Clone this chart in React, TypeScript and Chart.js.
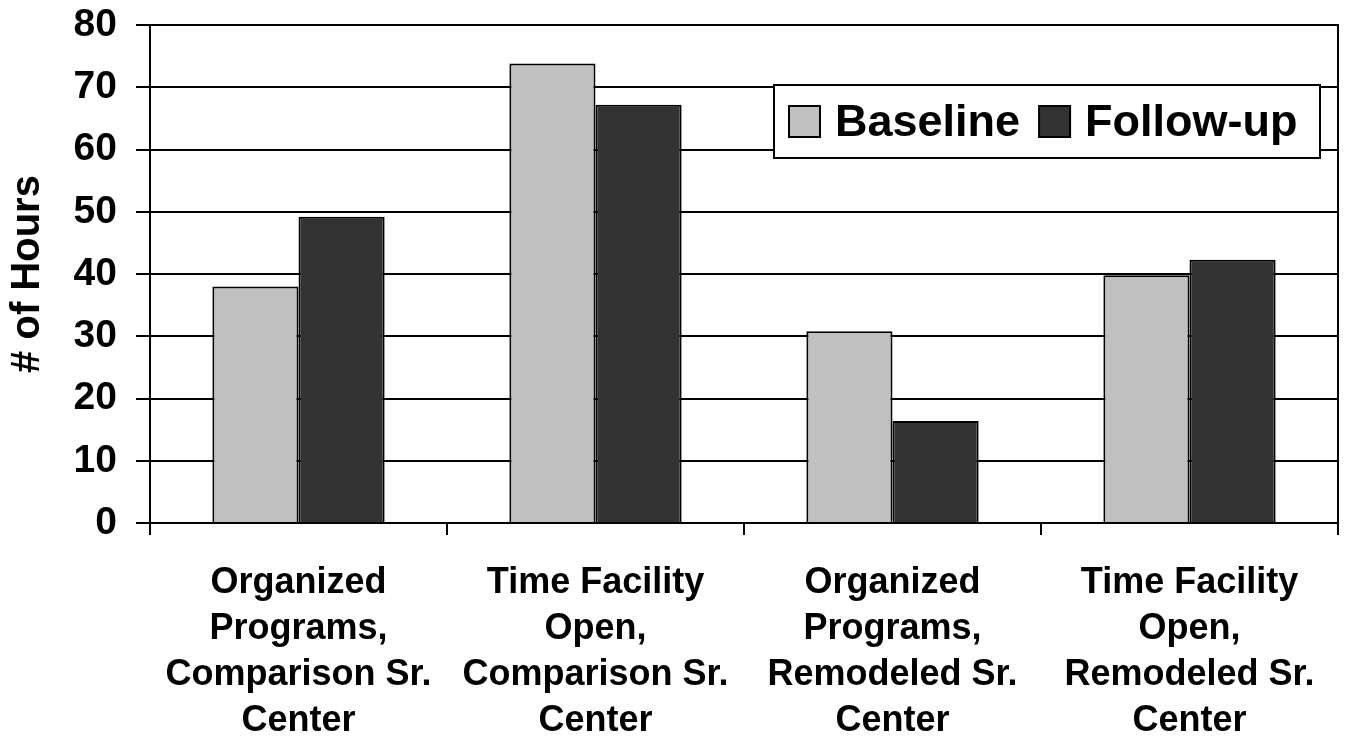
import React, { useEffect, useRef } from "react";
import { Chart, registerables } from "chart.js";

Chart.register(...registerables);

const categories: string[][] = [
  ["Organized", "Programs,", "Comparison Sr.", "Center"],
  ["Time Facility", "Open,", "Comparison Sr.", "Center"],
  ["Organized", "Programs,", "Remodeled Sr.", "Center"],
  ["Time Facility", "Open,", "Remodeled Sr.", "Center"],
];
const seriesNames = ["Baseline", "Follow-up"];
const baselineValues = [38, 73.8, 30.8, 39.8];
const followUpValues = [49.2, 67.2, 16.4, 42.3];
const seriesColors = ["#C0C0C0", "#333333"];
const yTitle = "# of Hours";

const FONT = "'Liberation Sans', Arial, Helvetica, sans-serif";

const borderPlugin = {
  id: "plotBorder",
  afterDatasetsDraw(chart: any) {
    const { ctx, chartArea } = chart;
    ctx.save();
    ctx.strokeStyle = "#000";
    ctx.lineWidth = 2;
    const x = Math.round(chartArea.right);
    ctx.beginPath();
    ctx.moveTo(x, chartArea.top - 1);
    ctx.lineTo(x, chartArea.bottom);
    ctx.stroke();
    ctx.restore();
  },
};

const legendBoxPlugin = {
  id: "legendBox",
  afterDraw(chart: any) {
    const { ctx, chartArea } = chart;
    const fontSize = 45;
    const sq = 31;
    const pad = 15;
    const gap = 19;
    ctx.save();
    ctx.font = `bold ${fontSize}px ${FONT}`;
    const items = chart.data.datasets.map((d: any) => ({
      label: d.label,
      color: d.backgroundColor,
      w: ctx.measureText(d.label).width,
    }));
    let total = pad;
    items.forEach((it: any, i: number) => {
      total += sq + pad + it.w + (i < items.length - 1 ? gap : pad);
    });
    const boxH = 73;
    const right = chartArea.right - 18;
    const left = Math.min(right - total, 774);
    const width = right - left;
    const top = chartArea.top + 60;
    ctx.fillStyle = "#fff";
    ctx.fillRect(left, top, width, boxH);
    ctx.strokeStyle = "#000";
    ctx.lineWidth = 2;
    ctx.strokeRect(Math.round(left), Math.round(top), Math.round(width), boxH);
    const cy = top + boxH / 2;
    let x = left + pad;
    items.forEach((it: any) => {
      ctx.fillStyle = it.color;
      ctx.fillRect(x, cy - sq / 2, sq, sq);
      ctx.strokeStyle = "#000";
      ctx.lineWidth = 2;
      ctx.strokeRect(x, cy - sq / 2, sq, sq);
      x += sq + pad;
      ctx.fillStyle = "#000";
      ctx.textBaseline = "middle";
      ctx.textAlign = "left";
      ctx.fillText(it.label, x, cy + 2);
      x += it.w + gap;
    });
    ctx.restore();
  },
};

export default function App() {
  const canvasRef = useRef<HTMLCanvasElement | null>(null);

  useEffect(() => {
    if (!canvasRef.current) return;
    const chart = new Chart(canvasRef.current, {
      type: "bar",
      data: {
        labels: categories,
        datasets: [
          {
            label: seriesNames[0],
            data: baselineValues,
            backgroundColor: seriesColors[0],
            borderColor: "#000",
            borderWidth: 2,
          },
          {
            label: seriesNames[1],
            data: followUpValues,
            backgroundColor: seriesColors[1],
            borderColor: "#000",
            borderWidth: 2,
          },
        ],
      },
      options: {
        animation: false,
        responsive: true,
        maintainAspectRatio: false,
        devicePixelRatio: 1,
        layout: { padding: { left: 0, right: 7, top: 25, bottom: 0 } },
        plugins: {
          legend: { display: false },
          tooltip: { enabled: false },
        },
        datasets: {
          bar: { categoryPercentage: 0.58, barPercentage: 1 },
        },
        scales: {
          x: {
            grid: {
              display: true,
              drawOnChartArea: false,
              drawTicks: true,
              tickLength: 12,
              color: "#000",
              lineWidth: 2,
              offset: true,
            },
            border: { display: true, color: "#000", width: 2 },
            ticks: {
              color: "#000",
              font: { family: FONT, size: 36, weight: "bold", lineHeight: 1.28 },
              padding: 25,
              maxRotation: 0,
              autoSkip: false,
            },
            afterFit: (scale: any) => {
              scale.height = 214;
            },
          },
          y: {
            min: 0,
            max: 80,
            ticks: {
              stepSize: 10,
              color: "#000",
              font: { family: FONT, size: 39, weight: "bold" },
              padding: 19,
            },
            grid: {
              color: "#000",
              lineWidth: 2,
              tickLength: 14,
              drawTicks: true,
            },
            border: { display: true, color: "#000", width: 2 },
            title: {
              display: true,
              text: yTitle,
              color: "#000",
              font: { family: FONT, size: 40, weight: "bold" },
              padding: { top: 4, bottom: 0 },
            },
            afterFit: (scale: any) => {
              scale.width = 150;
              scale.paddingTop = 0;
              scale.paddingBottom = 0;
            },
          },
        },
      },
      plugins: [borderPlugin, legendBoxPlugin],
    });
    return () => chart.destroy();
  }, []);

  return (
    <div
      style={{
        position: "absolute",
        left: 0,
        top: 0,
        width: 1345,
        height: 737,
        background: "#fff",
      }}
    >
      <canvas ref={canvasRef} />
    </div>
  );
}
